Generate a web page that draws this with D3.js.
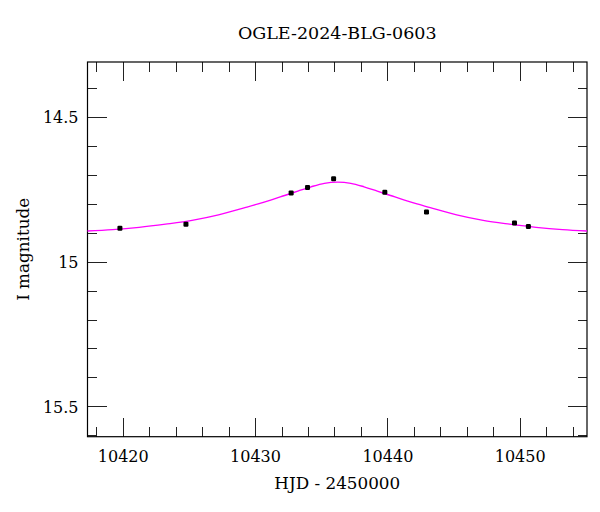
<!DOCTYPE html>
<html>
<head>
<meta charset="utf-8">
<script src="https://cdn.jsdelivr.net/npm/d3@7"></script>
<style>
  html, body { margin: 0; padding: 0; background: #fff; }
  svg { display: block; font-family: "DejaVu Serif", serif; }
</style>
</head>
<body>
<svg id="chart" width="600" height="512"></svg>
<script>
// Observed photometry (HJD - 2450000, I magnitude, error)
const obsTime = [10419.75, 10424.74, 10432.69, 10433.93, 10435.90, 10439.77, 10442.92, 10449.57, 10450.62];
const obsMag  = [14.883, 14.869, 14.761, 14.742, 14.712, 14.759, 14.827, 14.865, 14.877];
const obsErr  = [0.004, 0.004, 0.004, 0.004, 0.004, 0.004, 0.004, 0.004, 0.004];

// Model curve
const modelTime = [10417.2, 10419.2, 10421.2, 10423.2, 10425.2, 10427.2, 10429.2, 10430.2, 10431.2,
                   10432.2, 10433.2, 10434.2, 10435.2, 10436.2, 10437.2, 10438.2, 10439.2, 10440.2,
                   10441.2, 10442.2, 10443.2, 10445.2, 10447.2, 10449.2, 10451.2, 10453.2, 10455.2];
const modelMag  = [14.893, 14.888, 14.880, 14.869, 14.856, 14.837, 14.812, 14.799, 14.785,
                   14.770, 14.755, 14.740, 14.728, 14.724, 14.728, 14.740, 14.755, 14.770,
                   14.785, 14.799, 14.812, 14.837, 14.856, 14.869, 14.880, 14.888, 14.893];

const xMajorTicks = [10420, 10430, 10440, 10450];
const xMinorTicks = [10418, 10422, 10424, 10426, 10428, 10432, 10434, 10436, 10438, 10442, 10444, 10446, 10448, 10452, 10454];
const yMajorTicks = [14.5, 15, 15.5];
const yMinorTicks = [14.4, 14.6, 14.7, 14.8, 14.9, 15.1, 15.2, 15.3, 15.4, 15.6];

const titleText = "OGLE-2024-BLG-0603";
const xLabel = "HJD - 2450000";
const yLabel = "I magnitude";

const svg = d3.select("#chart");
const L = 87.5, R = 587, T = 62, B = 436.7;

const x = d3.scaleLinear().domain([10417.3, 10455.05]).range([L, R]);
const y = d3.scaleLinear().domain([14.309, 15.603]).range([T, B]);

const majLen = 19, minLen = 9.5;

// clip
svg.append("defs").append("clipPath").attr("id", "clip")
  .append("rect").attr("x", L).attr("y", T).attr("width", R - L).attr("height", B - T);

// ticks (inward on all four sides)
const tickG = svg.append("g").attr("stroke", "#222").attr("stroke-width", 1).attr("shape-rendering", "crispEdges");
function xt(vals, len) {
  vals.forEach(v => {
    const px = x(v);
    tickG.append("line").attr("x1", px).attr("x2", px).attr("y1", B).attr("y2", B - len);
    tickG.append("line").attr("x1", px).attr("x2", px).attr("y1", T).attr("y2", T + len);
  });
}
function yt(vals, len) {
  vals.forEach(v => {
    const py = y(v);
    if (py < T || py > B) return;
    tickG.append("line").attr("x1", L).attr("x2", L + len).attr("y1", py).attr("y2", py);
    tickG.append("line").attr("x1", R).attr("x2", R - len).attr("y1", py).attr("y2", py);
  });
}
xt(xMajorTicks, majLen); xt(xMinorTicks, minLen);
yt(yMajorTicks, majLen); yt(yMinorTicks, minLen);

// frame
svg.append("rect").attr("x", L).attr("y", T).attr("width", R - L).attr("height", B - T)
  .attr("fill", "none").attr("stroke", "#000").attr("stroke-width", 1.2);

// tick labels
svg.append("g").selectAll("text").data(xMajorTicks).join("text")
  .attr("x", d => x(d)).attr("y", 462).attr("text-anchor", "middle")
  .attr("font-size", 16).attr("fill", "#000").text(d => d);
svg.append("g").selectAll("text").data(yMajorTicks).join("text")
  .attr("x", 78.5).attr("y", d => y(d)).attr("dy", "0.36em").attr("text-anchor", "end")
  .attr("font-size", 16).attr("fill", "#000").text(d => d);

// model curve
const line = d3.line().x((d, i) => x(modelTime[i])).y((d, i) => y(modelMag[i])).curve(d3.curveMonotoneX);
svg.append("path").datum(modelMag).attr("clip-path", "url(#clip)")
  .attr("d", line).attr("fill", "none").attr("stroke", "#ff00ff").attr("stroke-width", 1.4);

// data points with error bars
const pts = obsTime.map((t, i) => ({t, m: obsMag[i], e: obsErr[i]}));
const pg = svg.append("g");
pg.selectAll("line").data(pts).join("line")
  .attr("x1", d => x(d.t)).attr("x2", d => x(d.t))
  .attr("y1", d => y(d.m - d.e)).attr("y2", d => y(d.m + d.e))
  .attr("stroke", "#000").attr("stroke-width", 1.5);
pg.selectAll("rect").data(pts).join("rect")
  .attr("x", d => x(d.t) - 2.5).attr("y", d => y(d.m) - 2.5)
  .attr("width", 5).attr("height", 5).attr("rx", 1.2).attr("fill", "#000");

// title and axis labels
svg.append("text").attr("x", (L + R) / 2).attr("y", 38.5).attr("text-anchor", "middle")
  .attr("font-size", 17.5).attr("fill", "#000").text(titleText);
svg.append("text").attr("x", (L + R) / 2).attr("y", 488.5).attr("text-anchor", "middle")
  .attr("font-size", 16.8).attr("fill", "#000").text(xLabel);
svg.append("text").attr("transform", `translate(28.5, ${(T + B) / 2}) rotate(-90)`)
  .attr("text-anchor", "middle").attr("font-size", 16.8).attr("fill", "#000").text(yLabel);
</script>
</body>
</html>
